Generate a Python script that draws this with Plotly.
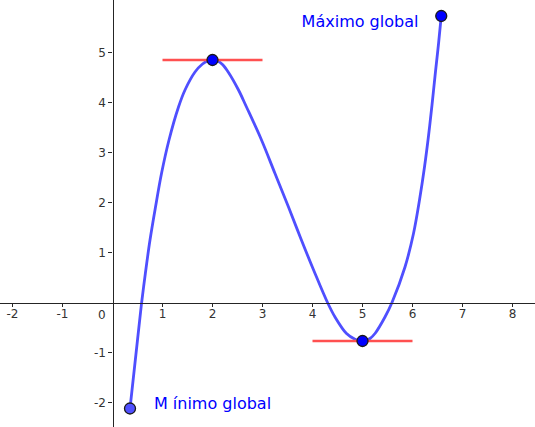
import plotly.graph_objects as go

# curve samples
curve_x = [0.35, 0.50, 0.583, 0.657, 0.75, 0.86, 0.98, 1.13, 1.32, 1.45, 1.65, 1.8, 1.9, 2.0,
           2.1, 2.2, 2.32, 2.52, 2.68, 2.98, 3.25, 3.52, 3.77, 4.03, 4.30, 4.45, 4.68,
           4.85, 4.93, 5.0, 5.07, 5.15, 5.25, 5.45, 5.59, 5.85, 6.02, 6.14, 6.24, 6.32,
           6.39, 6.46, 6.52, 6.575]
curve_y = [-2.12, -0.75, 0.0, 0.58, 1.25, 1.91, 2.58, 3.25, 3.91, 4.25, 4.61, 4.77, 4.83, 4.85,
           4.83, 4.76, 4.60, 4.25, 3.91, 3.25, 2.58, 1.91, 1.27, 0.63, 0.0, -0.29, -0.62,
           -0.735, -0.763, -0.77, -0.758, -0.72, -0.62, -0.29, 0.0, 0.71, 1.38, 2.05, 2.71, 3.33,
           3.95, 4.62, 5.17, 5.73]

# tangent segments
tan_top_x = [1, 3]
tan_top_y = [4.85, 4.85]
tan_bot_x = [4, 6]
tan_bot_y = [-0.77, -0.77]

# special points
ext_x = [2.0, 5.0, 6.575]
ext_y = [4.85, -0.77, 5.73]
start_x = [0.35]
start_y = [-2.12]

labels = ["Máximo global", "M ínimo global"]
label_x = [4.95, 2.0]
label_y = [5.6, -2.05]

x_ticks = [-2, -1, 1, 2, 3, 4, 5, 6, 7, 8]
x_ticktext = ["-2", "-1", "1", "2", "3", "4", "5", "6", "7", "8"]
y_ticks = [-2, -1, 1, 2, 3, 4, 5]
y_ticktext = ["-2", "-1", "1", "2", "3", "4", "5"]

xr = [-2.25, 8.45]
yr = [-2.49, 6.05]

fig = go.Figure()
fig.add_trace(go.Scatter(x=curve_x, y=curve_y, mode="lines",
                         line=dict(color="#4f4fff", width=2.8, shape="spline", smoothing=1.0),
                         hoverinfo="skip"))
fig.add_trace(go.Scatter(x=tan_top_x, y=tan_top_y, mode="lines",
                         line=dict(color="#ff5050", width=2.6)))
fig.add_trace(go.Scatter(x=tan_bot_x, y=tan_bot_y, mode="lines",
                         line=dict(color="#ff5050", width=2.6)))
fig.add_trace(go.Scatter(x=start_x, y=start_y, mode="markers",
                         marker=dict(color="#5050ff", size=11, line=dict(color="#1a1a1a", width=1.3))))
fig.add_trace(go.Scatter(x=ext_x, y=ext_y, mode="markers",
                         marker=dict(color="#0000ff", size=11, line=dict(color="#1a1a1a", width=1.3))))
fig.add_trace(go.Scatter(x=label_x, y=label_y, mode="text", text=labels,
                         textfont=dict(family="DejaVu Sans", size=16, color="#0000ff"),
                         textposition="middle center"))

xpos = (0 - yr[0]) / (yr[1] - yr[0])
ypos = (0 - xr[0]) / (xr[1] - xr[0])

fig.update_layout(
    width=535, height=427,
    margin=dict(l=0, r=0, t=0, b=0, autoexpand=False),
    paper_bgcolor="white", plot_bgcolor="white",
    showlegend=False,
    xaxis=dict(range=xr, anchor="free", position=xpos, showgrid=False, zeroline=False,
               showline=True, linecolor="#252525", linewidth=1.3,
               ticks="outside", ticklen=3, tickcolor="#252525", tickwidth=1,
               ticklabelstandoff=-3,
               tickvals=x_ticks, ticktext=x_ticktext,
               tickfont=dict(family="DejaVu Sans", size=12, color="#333333")),
    yaxis=dict(range=yr, anchor="free", position=ypos, showgrid=False, zeroline=False,
               showline=True, linecolor="#252525", linewidth=1.3,
               ticks="outside", ticklen=4, tickcolor="#252525", tickwidth=1,
               tickvals=y_ticks, ticktext=y_ticktext,
               tickfont=dict(family="DejaVu Sans", size=12, color="#333333")),
    annotations=[dict(x=0, y=0, xref="x", yref="y", text="0", showarrow=False,
                      xanchor="right", yanchor="top", xshift=-5, yshift=-3,
                      font=dict(family="DejaVu Sans", size=12, color="#333333"))],
)

fig.write_html("out.html")
